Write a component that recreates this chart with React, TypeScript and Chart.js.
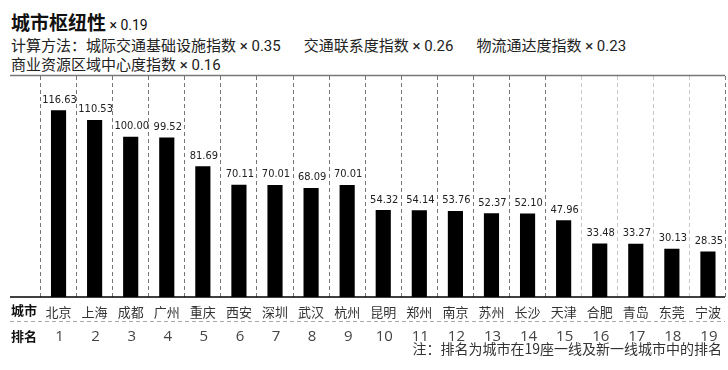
import React, { useEffect, useRef } from "react";
import { Chart, registerables } from "chart.js";

Chart.register(...registerables);

const cities = ["北京", "上海", "成都", "广州", "重庆", "西安", "深圳", "武汉", "杭州", "昆明", "郑州", "南京", "苏州", "长沙", "天津", "合肥", "青岛", "东莞", "宁波"];
const values = [116.63, 110.53, 100.0, 99.52, 81.69, 70.11, 70.01, 68.09, 70.01, 54.32, 54.14, 53.76, 52.37, 52.1, 47.96, 33.48, 33.27, 30.13, 28.35];
const ranks = ["1", "2", "3", "4", "5", "6", "7", "8", "9", "10", "11", "12", "13", "14", "15", "16", "17", "18", "19"];

const CJK = '"Noto Sans CJK SC", sans-serif';
const HEAD = 'Roboto, "Noto Sans CJK SC", sans-serif';

const decorPlugin = {
  id: "decor",
  afterDraw(chart: any) {
    const ctx = chart.ctx as CanvasRenderingContext2D;
    const xs = chart.scales.x;
    const area = chart.chartArea;
    ctx.save();
    // top rule
    ctx.strokeStyle = "#777";
    ctx.lineWidth = 1.5;
    ctx.beginPath();
    ctx.moveTo(10, area.top - 0.5);
    ctx.lineTo(725, area.top - 0.5);
    ctx.stroke();
    // baseline
    ctx.strokeStyle = "#000";
    ctx.lineWidth = 1.5;
    ctx.beginPath();
    ctx.moveTo(10, area.bottom);
    ctx.lineTo(725, area.bottom);
    ctx.stroke();
    // separator dashed
    ctx.strokeStyle = "#aaa";
    ctx.lineWidth = 1;
    ctx.setLineDash([4, 3]);
    ctx.beginPath();
    ctx.moveTo(10, 321.5);
    ctx.lineTo(725, 321.5);
    ctx.stroke();
    ctx.setLineDash([]);

    // left labels
    ctx.fillStyle = "#111";
    ctx.font = "bold 13px " + CJK;
    ctx.textAlign = "left";
    ctx.textBaseline = "middle";
    ctx.fillText("城市", 11, 310);
    ctx.fillText("排名", 11, 336);

    // ranks
    ctx.fillStyle = "#444";
    ctx.font = '15px "Open Sans", "Noto Sans", sans-serif';
    ctx.textAlign = "center";
    ranks.forEach((r, i) => {
      ctx.fillText(r, xs.getPixelForValue(i) + 1, 337);
    });

    // note
    ctx.fillStyle = "#333";
    ctx.font = "14px " + CJK;
    ctx.textAlign = "right";
    ctx.fillText("注：排名为城市在19座一线及新一线城市中的排名", 722, 349);

    // value labels
    const meta = chart.getDatasetMeta(0);
    ctx.fillStyle = "#222";
    ctx.font = '11px "DejaVu Sans Condensed", "DejaVu Sans", sans-serif';
    ctx.textAlign = "center";
    ctx.textBaseline = "alphabetic";
    meta.data.forEach((bar: any, i: number) => {
      ctx.fillText(values[i].toFixed(2), bar.x + 1, bar.y - 7.5);
    });
    ctx.restore();
  },
};

export default function App() {
  const ref = useRef<HTMLCanvasElement | null>(null);
  useEffect(() => {
    if (!ref.current) return;
    const chart = new Chart(ref.current, {
      type: "bar",
      data: {
        labels: cities,
        datasets: [
          {
            data: values,
            backgroundColor: "#000",
            borderWidth: 0,
            categoryPercentage: 1,
            barPercentage: 0.42,
          },
        ],
      },
      options: {
        responsive: false,
        animation: false,
        layout: { padding: { left: 40.5, right: 2, top: 76, bottom: 0 } },
        plugins: { legend: { display: false }, tooltip: { enabled: false }, title: { display: false } },
        scales: {
          x: {
            offset: true,
            grid: {
              offset: true,
              drawTicks: false,
              lineWidth: 1,
              color: (c: any) => (c.index >= 19 ? "rgba(0,0,0,0)" : c.index >= 15 ? "#c8c8c8" : "#777"),
            },
            border: { display: false, dash: [4, 3] },
            ticks: {
              autoSkip: false,
              maxRotation: 0,
              padding: 7,
              color: "#333",
              font: { family: CJK, size: 13 },
            },
            afterFit: (s: any) => {
              s.height = 73;
            },
          },
          y: {
            display: false,
            min: 0,
            max: 138,
          },
        },
      },
      plugins: [decorPlugin],
    });
    return () => chart.destroy();
  }, []);

  return (
    <div style={{ position: "fixed", left: 0, top: 0, width: 728, height: 370, background: "#fff" }}>
      <div style={{ position: "absolute", left: 11, top: 11, fontFamily: HEAD, color: "#111", lineHeight: "22px", whiteSpace: "nowrap" }}>
        <span style={{ fontSize: 19, fontWeight: "bold", fontFamily: CJK }}>城市枢纽性</span>
        <span style={{ fontSize: 14 }}> × 0.19</span>
      </div>
      <div style={{ position: "absolute", left: 11, top: 37, fontFamily: HEAD, fontSize: 15, color: "#222", lineHeight: "18px", whiteSpace: "nowrap" }}>
        <span>计算方法：城际交通基础设施指数 × 0.35</span>
        <span style={{ marginLeft: 23 }}>交通联系度指数 × 0.26</span>
        <span style={{ marginLeft: 23 }}>物流通达度指数 × 0.23</span>
      </div>
      <div style={{ position: "absolute", left: 11, top: 56, fontFamily: HEAD, fontSize: 15, color: "#222", lineHeight: "18px", whiteSpace: "nowrap" }}>
        商业资源区域中心度指数 × 0.16
      </div>
      <canvas ref={ref} width={728} height={370} style={{ position: "absolute", left: 0, top: 0 }} />
    </div>
  );
}
